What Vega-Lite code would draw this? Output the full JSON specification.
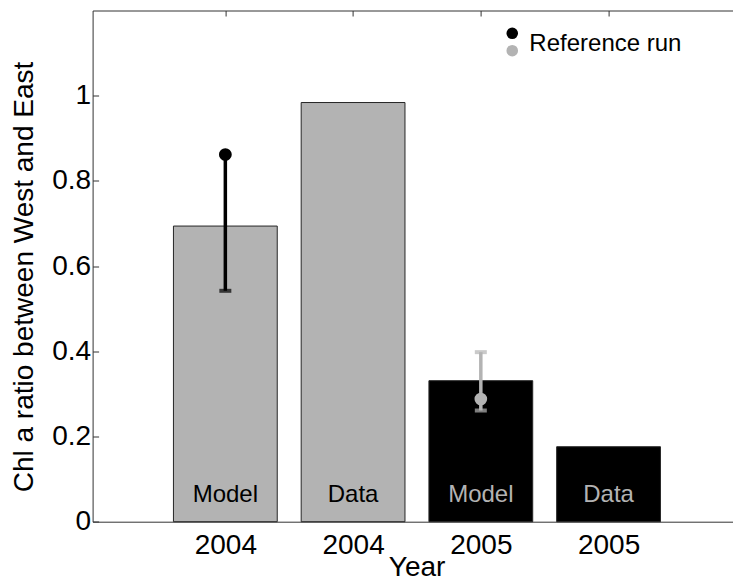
{
  "$schema": "https://vega.github.io/schema/vega-lite/v6.json",
  "width": 640.4,
  "height": 511.2,
  "autosize": {"type": "none"},
  "padding": {"left": 92.6, "top": 10.5, "right": 0, "bottom": 60.3},
  "background": "white",
  "config": {
    "view": {"stroke": null},
    "font": "Liberation Sans",
    "axis": {
      "grid": false,
      "domainColor": "#333333",
      "domainWidth": 1,
      "tickColor": "#333333",
      "tickWidth": 1,
      "labelFont": "Liberation Sans",
      "labelColor": "black",
      "titleFont": "Liberation Sans",
      "titleColor": "black",
      "titleFontWeight": "normal"
    }
  },
  "datasets": {
    "ratios": [
      {"pos": 1, "year": "2004", "kind": "Model", "ratio": 0.694, "ref": 0.862, "lo": 0.542, "hi": 0.862},
      {"pos": 2, "year": "2004", "kind": "Data", "ratio": 0.984},
      {"pos": 3, "year": "2005", "kind": "Model", "ratio": 0.331, "ref": 0.288, "lo": 0.261, "hi": 0.398},
      {"pos": 4, "year": "2005", "kind": "Data", "ratio": 0.176}
    ],
    "keySymbols": [
      {"year": "2004", "kx": 3.246, "ky": 1.1465},
      {"year": "2005", "kx": 3.246, "ky": 1.1056}
    ],
    "keyLabel": [
      {"label": "Reference run", "kx": 3.38, "ky": 1.1056}
    ]
  },
  "resolve": {"scale": {"x": "shared", "y": "shared"}, "axis": {"x": "independent", "y": "independent"}},
  "layer": [
    {
      "data": {"name": "ratios"},
      "mark": {"type": "bar", "width": 103.8, "stroke": "#262626", "strokeWidth": 1},
      "encoding": {
        "x": {
          "field": "pos", "type": "quantitative",
          "scale": {"domain": [0, 4.935], "nice": false, "zero": false},
          "axis": {
            "orient": "bottom",
            "values": [1, 2, 3, 4],
            "labelExpr": "datum.value <= 2 ? '2004' : '2005'",
            "ticks": false,
            "labelFontSize": 28,
            "labelBaseline": "alphabetic",
            "labelPadding": 31.6,
            "title": "Year",
            "titleFontSize": 28,
            "titleX": 324,
            "titleY": 53.5,
            "titleAlign": "center",
            "titleBaseline": "alphabetic"
          }
        },
        "y": {
          "field": "ratio", "type": "quantitative",
          "scale": {"domain": [0, 1.2], "nice": false},
          "axis": {
            "orient": "left",
            "values": [0, 0.2, 0.4, 0.6, 0.8, 1],
            "format": "~g",
            "labelFontSize": 28,
            "labelBaseline": "middle",
            "tickSize": -6,
            "labelPadding": 8,
            "title": "Chl a ratio between West and East",
            "titleFontSize": 28,
            "titleAngle": -90,
            "titleX": -60,
            "titleY": 266,
            "titleAlign": "center",
            "titleBaseline": "alphabetic"
          }
        },
        "fill": {
          "field": "year", "type": "nominal",
          "scale": {"domain": ["2004", "2005"], "range": ["#b3b3b3", "#000000"]},
          "legend": null
        }
      }
    },
    {
      "data": {"name": "ratios"},
      "transform": [{"filter": "datum.lo != null"}],
      "mark": {"type": "rule", "strokeWidth": 3.5},
      "encoding": {
        "x": {
          "field": "pos", "type": "quantitative",
          "axis": {
            "orient": "top",
            "values": [1, 2, 3, 4],
            "labels": false,
            "ticks": true,
            "tickSize": -5.5,
            "title": null
          }
        },
        "y": {"field": "lo", "type": "quantitative", "axis": null},
        "y2": {"field": "hi"},
        "color": {
          "field": "year", "type": "nominal",
          "scale": {"domain": ["2004", "2005"], "range": ["#000000", "#b3b3b3"]},
          "legend": null
        }
      }
    },
    {
      "data": {"name": "ratios"},
      "transform": [{"filter": "datum.lo != null"}],
      "mark": {"type": "tick", "orient": "horizontal", "size": 12, "thickness": 4},
      "encoding": {
        "x": {"field": "pos", "type": "quantitative", "axis": null},
        "y": {"field": "lo", "type": "quantitative", "axis": null},
        "color": {"field": "year", "type": "nominal", "legend": null}
      }
    },
    {
      "data": {"name": "ratios"},
      "transform": [{"filter": "datum.hi != null"}],
      "mark": {"type": "tick", "orient": "horizontal", "size": 12, "thickness": 4},
      "encoding": {
        "x": {"field": "pos", "type": "quantitative", "axis": null},
        "y": {"field": "hi", "type": "quantitative", "axis": null},
        "color": {"field": "year", "type": "nominal", "legend": null}
      }
    },
    {
      "data": {"name": "ratios"},
      "transform": [{"filter": "datum.ref != null"}],
      "mark": {"type": "point", "filled": true, "opacity": 1, "size": 160},
      "encoding": {
        "x": {"field": "pos", "type": "quantitative", "axis": null},
        "y": {"field": "ref", "type": "quantitative", "axis": null},
        "color": {"field": "year", "type": "nominal", "legend": null}
      }
    },
    {
      "data": {"name": "ratios"},
      "mark": {"type": "text", "fontSize": 24, "align": "center", "baseline": "alphabetic", "font": "Liberation Sans"},
      "encoding": {
        "x": {"field": "pos", "type": "quantitative", "axis": null},
        "y": {"datum": 0.046, "type": "quantitative", "axis": null},
        "text": {"field": "kind"},
        "color": {"field": "year", "type": "nominal", "legend": null}
      }
    },
    {
      "data": {"name": "keySymbols"},
      "mark": {"type": "point", "filled": true, "opacity": 1, "size": 135},
      "encoding": {
        "x": {"field": "kx", "type": "quantitative", "axis": null},
        "y": {"field": "ky", "type": "quantitative", "axis": null},
        "color": {"field": "year", "type": "nominal", "legend": null}
      }
    },
    {
      "data": {"name": "keyLabel"},
      "mark": {"type": "text", "fontSize": 24, "align": "left", "baseline": "alphabetic", "color": "black", "font": "Liberation Sans"},
      "encoding": {
        "x": {"field": "kx", "type": "quantitative", "axis": null},
        "y": {"field": "ky", "type": "quantitative", "axis": null},
        "text": {"field": "label"}
      }
    }
  ]
}
